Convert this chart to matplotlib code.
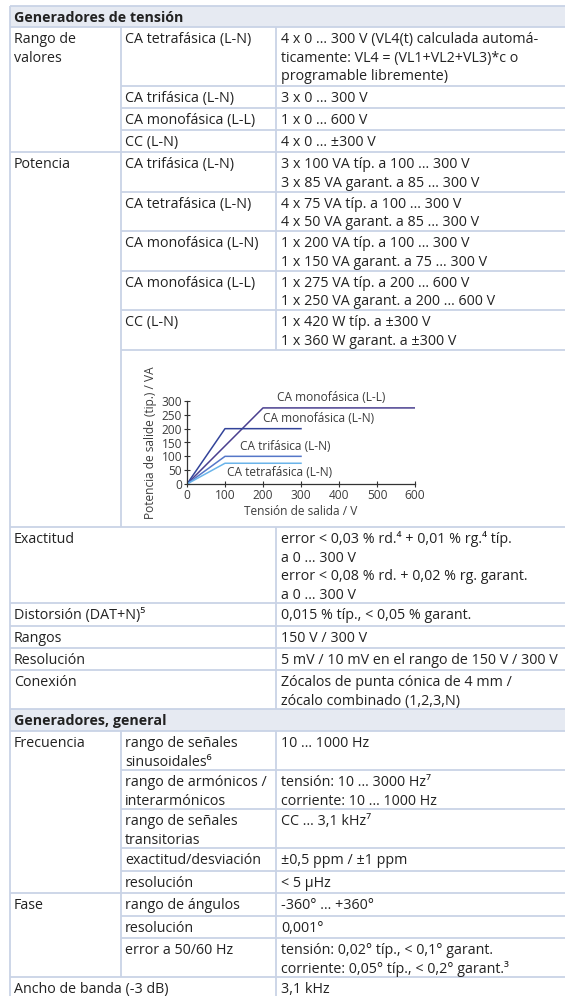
import matplotlib
matplotlib.use("Agg")
import matplotlib.pyplot as plt

plt.rcParams['font.family'] = ['Open Sans', 'DejaVu Sans']

# ---- chart data (tension / potencia)
v_mono_ll = [0, 200, 600]
p_mono_ll = [0, 275, 275]
v_mono_ln = [0, 100, 300]
p_mono_ln = [0, 200, 200]
v_tri = [0, 100, 300]
p_tri = [0, 100, 100]
v_tetra = [0, 100, 300]
p_tetra = [0, 75, 75]
series_names = ["CA monofásica (L-L)", "CA monofásica (L-N)", "CA trifásica (L-N)", "CA tetrafásica (L-N)"]
x_ticks = [0, 100, 200, 300, 400, 500, 600]
y_ticks = [0, 50, 100, 150, 200, 250, 300]

# ---- table texts
sec1_title = "Generadores de tensión"
sec2_title = "Generadores, general"

rango_label = ["Rango de", "valores"]
rango_items = ["CA tetrafásica (L-N)", "CA trifásica (L-N)", "CA monofásica (L-L)", "CC (L-N)"]
rango_values = [
    ["4 x 0 … 300 V (VL4(t) calculada automá-", "ticamente: VL4 = (VL1+VL2+VL3)*c o", "programable libremente)"],
    ["3 x 0 … 300 V"],
    ["1 x 0 … 600 V"],
    ["4 x 0 … ±300 V"],
]

potencia_label = ["Potencia"]
potencia_items = ["CA trifásica (L-N)", "CA tetrafásica (L-N)", "CA monofásica (L-N)", "CA monofásica (L-L)", "CC (L-N)"]
potencia_values = [
    ["3 x 100 VA típ. a 100 … 300 V", "3 x 85 VA garant. a 85 … 300 V"],
    ["4 x 75 VA típ. a 100 … 300 V", "4 x 50 VA garant. a 85 … 300 V"],
    ["1 x 200 VA típ. a 100 … 300 V", "1 x 150 VA garant. a 75 … 300 V"],
    ["1 x 275 VA típ. a 200 … 600 V", "1 x 250 VA garant. a 200 … 600 V"],
    ["1 x 420 W típ. a ±300 V", "1 x 360 W garant. a ±300 V"],
]

simple_labels = ["Exactitud", "Distorsión (DAT+N)⁵", "Rangos", "Resolución", "Conexión"]
simple_values = [
    ["error < 0,03 % rd.⁴ + 0,01 % rg.⁴ típ.", "a 0 … 300 V", "error < 0,08 % rd. + 0,02 % rg. garant.", "a 0 … 300 V"],
    ["0,015 % típ., < 0,05 % garant."],
    ["150 V / 300 V"],
    ["5 mV / 10 mV en el rango de 150 V / 300 V"],
    ["Zócalos de punta cónica de 4 mm /", "zócalo combinado (1,2,3,N)"],
]

frec_label = ["Frecuencia"]
frec_items = [["rango de señales", "sinusoidales⁶"], ["rango de armónicos /", "interarmónicos"],
              ["rango de señales", "transitorias"], ["exactitud/desviación"], ["resolución"]]
frec_values = [["10 … 1000 Hz"], ["tensión: 10 … 3000 Hz⁷", "corriente: 10 … 1000 Hz"],
               ["CC … 3,1 kHz⁷"], ["±0,5 ppm / ±1 ppm"], ["< 5 µHz"]]

fase_label = ["Fase"]
fase_items = [["rango de ángulos"], ["resolución"], ["error a 50/60 Hz"]]
fase_values = [["-360° … +360°"], ["0,001°"],
               ["tensión: 0,02° típ., < 0,1° garant.", "corriente: 0,05° típ., < 0,2° garant.³"]]

banda_label = "Ancho de banda (-3 dB)"
banda_value = "3,1 kHz"

# ---- layout (pixels)
W, H = 565, 996
X0, X1, X2 = 10, 121, 276
TX0, TX1, TX2 = 14, 125, 281
LINE = 18.7
BASE = 16
line_c = "#c9d3e6"
head_c = "#e6eaf2"
txt_c = "#222222"
FS = 10.3
CFS = 8.6

fig = plt.figure(figsize=(W / 100, H / 100), dpi=100)
ax = fig.add_axes([0, 0, 1, 1])
ax.set_xlim(0, W)
ax.set_ylim(H, 0)
ax.axis("off")


def hline(y, x0=X0):
    ax.plot([x0, W], [y, y], color=line_c, lw=1.3, solid_capstyle="butt")


def vline(x, y0, y1):
    ax.plot([x, x], [y0, y1], color=line_c, lw=1.3, solid_capstyle="butt")


def write(x, top, lines, bold=False):
    for i, s in enumerate(lines):
        ax.text(x, top + BASE + i * LINE, s, fontsize=FS, color=txt_c, va="baseline",
                ha="left", fontweight="bold" if bold else "normal")


def header(top, bottom, title):
    ax.fill_between([X0, W], top, bottom, color=head_c, lw=0)
    hline(top)
    hline(bottom)
    ax.text(TX0, top + 16, title, fontsize=FS, color=txt_c, va="baseline", fontweight="bold")


# section 1
header(6, 27, sec1_title)
rango_tops = [27, 86, 108, 130, 152]
write(TX0, rango_tops[0], rango_label)
for i in range(len(rango_items)):
    write(TX1, rango_tops[i], [rango_items[i]])
    write(TX2, rango_tops[i], rango_values[i])
    if i < len(rango_items) - 1:
        hline(rango_tops[i + 1], X1)
hline(152)

pot_tops = [152, 191.5, 231, 270.5, 310, 349.5]
write(TX0, pot_tops[0], potencia_label)
for i in range(len(potencia_items)):
    write(TX1, pot_tops[i], [potencia_items[i]])
    write(TX2, pot_tops[i], potencia_values[i])
    hline(pot_tops[i + 1], X1)
vline(X1, 27, 527)
vline(X2, 27, 349.5)

simple_tops = [527, 603, 626, 648, 670, 709]
for i in range(len(simple_labels)):
    hline(simple_tops[i])
    write(TX0, simple_tops[i], [simple_labels[i]])
    write(TX2, simple_tops[i], simple_values[i])
vline(X2, 527, 709)

# section 2
header(709, 731, sec2_title)
frec_tops = [731, 770, 809, 848, 871, 893]
write(TX0, frec_tops[0], frec_label)
for i in range(len(frec_items)):
    write(TX1, frec_tops[i], frec_items[i])
    write(TX2, frec_tops[i], frec_values[i])
    if i < len(frec_items) - 1:
        hline(frec_tops[i + 1], X1)
hline(893)
fase_tops = [893, 916, 938, 977]
write(TX0, fase_tops[0], fase_label)
for i in range(len(fase_items)):
    write(TX1, fase_tops[i], fase_items[i])
    write(TX2, fase_tops[i], fase_values[i])
    if i < len(fase_items) - 1:
        hline(fase_tops[i + 1], X1)
hline(977)
write(TX0, 977, [banda_label])
write(TX2, 977, [banda_value])
vline(X1, 731, 977)
vline(X2, 731, H)
vline(X0, 6, H)

# ---- embedded chart
cl, cr, cb, ct = 187, 415, 484, 401
cax = fig.add_axes([cl / W, 1 - cb / H, (cr - cl) / W, (cb - ct) / H])
gray = "#3c3c3c"
colors = ["#4a3f8f", "#33449a", "#5577c8", "#6ab4ea"]
cax.plot(v_mono_ll, p_mono_ll, color=colors[0], lw=1.1)
cax.plot(v_mono_ln, p_mono_ln, color=colors[1], lw=1.1)
cax.plot(v_tri, p_tri, color=colors[2], lw=1.1)
cax.plot(v_tetra, p_tetra, color=colors[3], lw=1.1)
cax.set_xlim(0, 600)
cax.set_ylim(0, 300)
cax.set_xticks(x_ticks)
cax.set_yticks(y_ticks)
cax.set_facecolor("none")
for s in ["top", "right"]:
    cax.spines[s].set_visible(False)
for s in ["left", "bottom"]:
    cax.spines[s].set_color("#333333")
    cax.spines[s].set_linewidth(0.9)
cax.tick_params(direction="inout", length=4, width=0.8, color="#333333", labelsize=CFS,
                labelcolor=gray, pad=1.5)
cax.set_xlabel("Tensión de salida / V", fontsize=CFS, color=gray, labelpad=2)
cax.set_ylabel("Potencia de salide (tip.) / VA", fontsize=CFS, color=gray, labelpad=3)

label_pos = [(237, 314), (200, 235), (139, 134), (105, 40)]
for name, (lx, ly) in zip(series_names, label_pos):
    cax.text(lx, ly, name, fontsize=CFS, color=gray, va="center", ha="left", clip_on=False)

fig.savefig("out.png", dpi=100)
